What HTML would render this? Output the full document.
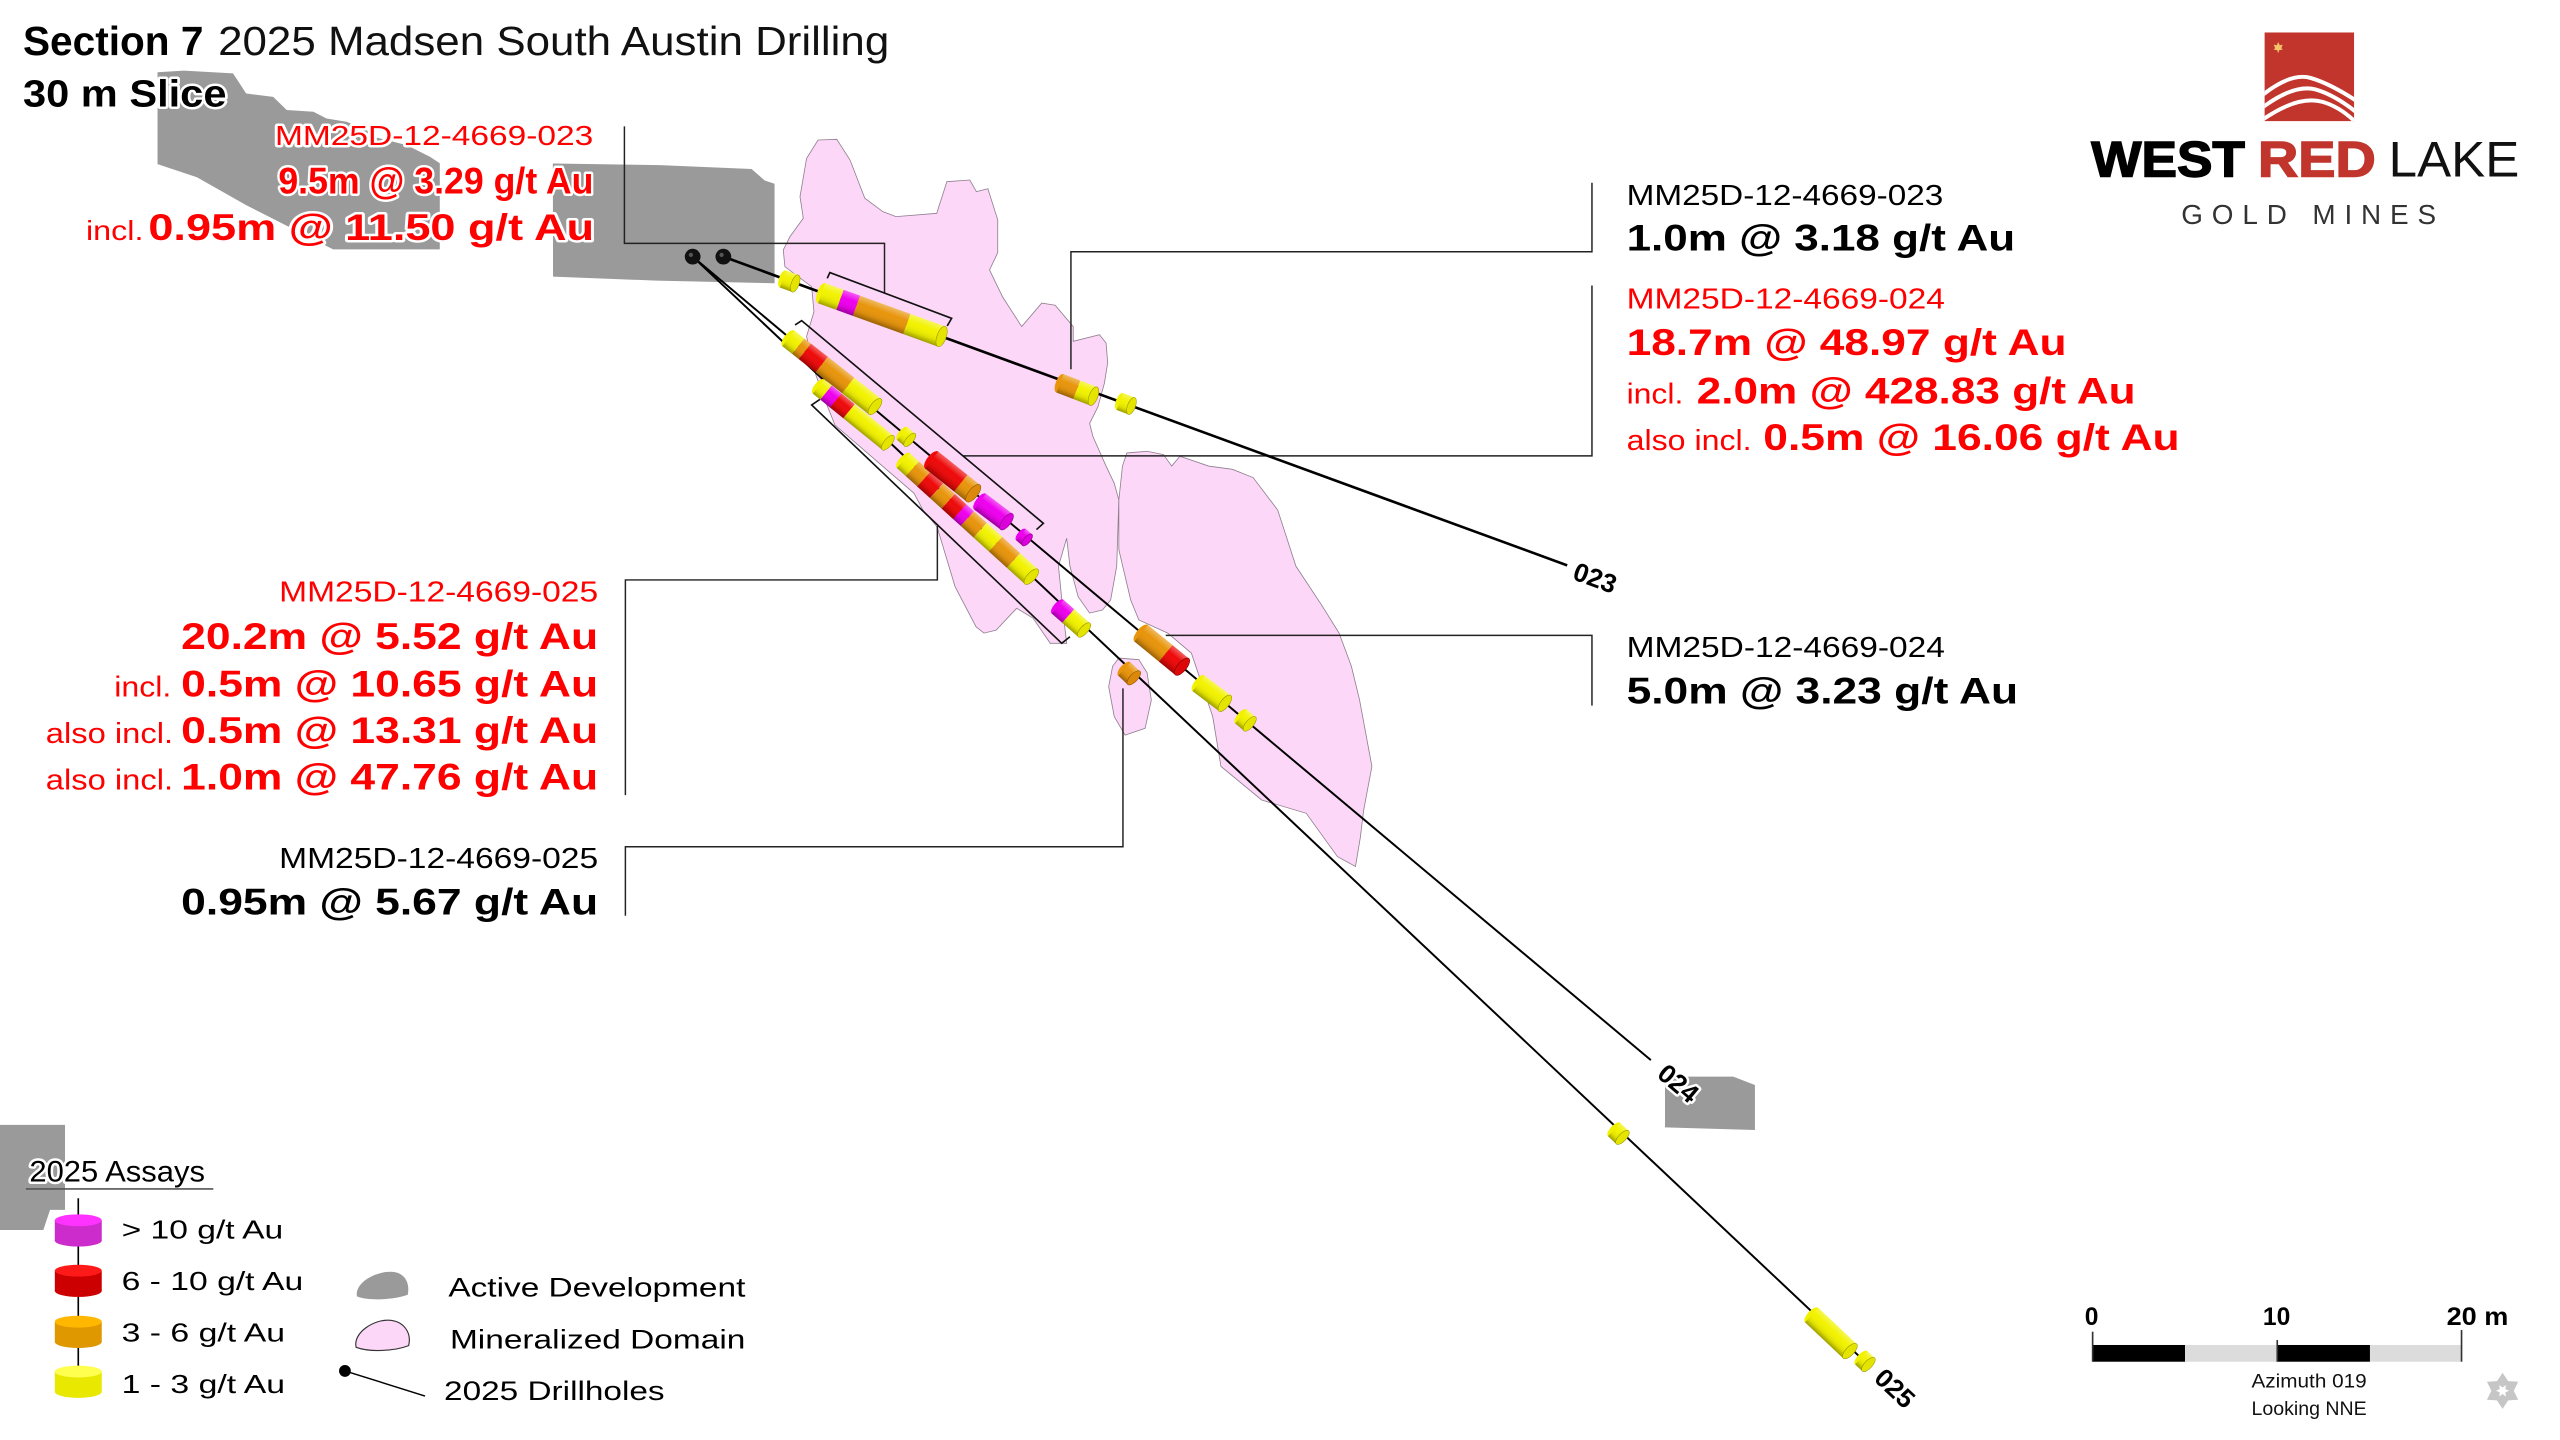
<!DOCTYPE html>
<html>
<head>
<meta charset="utf-8">
<style>
html,body{margin:0;padding:0;background:#fff;}
body{width:2560px;height:1440px;overflow:hidden;}
svg{display:block;}
text{font-family:"Liberation Sans",sans-serif;}
.h{paint-order:stroke;stroke:#fff;stroke-width:3;stroke-linejoin:round;}
.b{font-weight:bold;}
.r{fill:#f00;}
</style>
</head>
<body>
<svg width="2560" height="1440" viewBox="0 0 1560 877.5" xmlns="http://www.w3.org/2000/svg">
<defs>
<linearGradient id="sh" x1="0" y1="0" x2="0" y2="1">
<stop offset="0" stop-color="#fff" stop-opacity="0.35"/>
<stop offset="0.35" stop-color="#fff" stop-opacity="0"/>
<stop offset="0.75" stop-color="#000" stop-opacity="0.08"/>
<stop offset="1" stop-color="#000" stop-opacity="0.35"/>
</linearGradient>
<clipPath id="sq"><rect x="1380" y="19.8" width="54.5" height="54"/></clipPath>
</defs>

<!-- Active development (gray) -->
<g fill="#9a9a9a">
<polygon points="96,44 112,43 142,44.7 146,50.8 150,57 166.5,59 174.7,67 191,68.1 199,72.2 211.2,74.2 223.4,79.3 227.5,83.3 247.8,88.4 262,95.5 268,99.5 268,152 203,152 150,125 120,108 96,100"/>
<polygon points="336.9,99.6 402,100.6 458,103 466,110 472,112 472,172.6 400,171 337,168.6"/>
<polygon points="1014.6,656.1 1056.2,656.1 1069.4,661.2 1069.4,688.6 1014.6,687"/>
<polygon points="0,685.5 39.6,685.5 39.6,737.3 30.5,737.3 26.4,749.5 0,749.5"/>
</g>

<!-- Mineralized domains -->
<g fill="#fcd7f7" stroke="#8f7f8f" stroke-width="0.5">
<path d="M498.5,85.3 L509.9,84.9 L518,97.5 L527,120.8 L538,129 L546,132 L570.8,130 L577,110.7 L591,109.7 L595,116.8 L602,115 L608,134 L608,154 L603,164.5 L611,181 L622.6,199 L634.8,184.7 L643,186 L654,199 L654,208 L670,204 L674,209 L675,221 L673,233.5 L669,248 L664,258 L666,266 L674,284 L679,294.5 L681.8,304.7 L680.5,345 L676.8,365.6 L671.8,371.7 L664,373.6 L657,363.6 L652,345 L650,328 L645,345 L648,375 L650,392 L640,392 L629.5,376.7 L619.5,370.7 L607,384 L599.6,385.8 L594.8,382 L582,357.5 L571,321 L562.4,310.8 L557,300.6 L508.8,259 L502.7,243.8 L497,228 L491.5,205 L496,190 L494.6,174.7 L478.3,162.5 L477.3,152.3 L481.4,144.2 L489.5,133 L487.5,119.8 L491.5,96.5 Z"/>
<path d="M686.7,276 L699,275 L709,277 L714,284 L719,278 L736.5,284 L751,286 L763.6,291 L778.6,310.8 L789.7,345 L806,369.7 L816,385.8 L823.5,406 L828.5,426.6 L836,467 L831,493.6 L829,510 L826,528 L815,522 L796,495.6 L768.8,487.5 L744,467 L739,436.7 L726,398 L711.6,385.8 L694,377.8 L689,365.6 L681.8,335 L681.8,304.7 L684,284 Z"/>
<path d="M681.8,401 L694,402 L699,410 L701.6,426.6 L697.8,443.8 L685.6,448 L679,436.7 L675.6,418.5 L678,406 Z"/>
</g>

<!-- Leader lines -->
<g fill="none" stroke="#222" stroke-width="0.9">
<polyline points="380.5,77 380.5,148.3 539,148.3 539,178.5"/>
<polyline points="970.1,111.4 970.1,153.4 652.6,153.4 652.6,225"/>
<polyline points="970.1,174 970.1,277.8 587,277.8"/>
<polyline points="970.1,430 970.1,387.2 710.4,387.2"/>
<polyline points="381.1,484.5 381.1,353.4 571.2,353.4 571.2,320.5"/>
<polyline points="381.1,558 381.1,516 684.3,516 684.3,419.5"/>
</g>

<!-- Brackets -->
<g fill="none" stroke="#111" stroke-width="1">
<polyline points="504.1,169.6 505.7,166.1 579.9,194 577.2,198.6"/>
<polyline points="484.5,198 488.5,195.4 635.8,318.9 631.6,322.7"/>
<polyline points="499.7,243.3 494.6,246.8 647,392 652,388"/>
</g>

<!-- Drill holes -->
<g stroke="#000" fill="none">
<line x1="440.8" y1="156.4" x2="955" y2="344.5" stroke-width="1.6"/>
<line x1="422.1" y1="156.4" x2="1006" y2="646" stroke-width="1.2"/>
<line x1="422.1" y1="156.4" x2="1135.4" y2="828.8" stroke-width="1.2"/>
</g>

<!-- Cylinders -->
<g stroke="none">
<!-- 1 -->
<g transform="translate(477.1,170) rotate(20.1)"><ellipse cx="0" cy="0" rx="2.4" ry="5.5" fill="#f2f200"/><rect x="0" y="-5.5" width="8" height="11" fill="#f2f200"/><rect x="0" y="-5.5" width="8" height="11" fill="url(#sh)"/><ellipse cx="8" cy="0" rx="2.4" ry="5.5" fill="#e4e400" stroke="#8a8a00" stroke-width="0.3"/></g>
<!-- 2 -->
<g transform="translate(500.7,178.7) rotate(19.85)"><ellipse cx="0" cy="0" rx="2.8" ry="6.5" fill="#f2f200"/><rect x="0" y="-6.5" width="11.9" height="13" fill="#f2f200"/><rect x="11.9" y="-6.5" width="10.7" height="13" fill="#ee00ee"/><rect x="22.5" y="-6.5" width="32.7" height="13" fill="#e8950c"/><rect x="55.2" y="-6.5" width="22.5" height="13" fill="#f2f200"/><rect x="0" y="-6.5" width="77.7" height="13" fill="url(#sh)"/><ellipse cx="77.7" cy="0" rx="2.8" ry="6.5" fill="#e4e400" stroke="#8a8a00" stroke-width="0.3"/></g>
<!-- 3 -->
<g transform="translate(645.9,233.6) rotate(21)"><ellipse cx="0" cy="0" rx="2.6" ry="6" fill="#e8950c"/><rect x="0" y="-6" width="11" height="12" fill="#e8950c"/><rect x="11" y="-6" width="10.9" height="12" fill="#f2f200"/><rect x="0" y="-6" width="21.9" height="12" fill="url(#sh)"/><ellipse cx="21.9" cy="0" rx="2.6" ry="6" fill="#e4e400" stroke="#8a8a00" stroke-width="0.3"/></g>
<!-- 4 -->
<g transform="translate(682.4,244.7) rotate(20.8)"><ellipse cx="0" cy="0" rx="2.4" ry="5.5" fill="#f2f200"/><rect x="0" y="-5.5" width="7.6" height="11" fill="#f2f200"/><rect x="0" y="-5.5" width="7.6" height="11" fill="url(#sh)"/><ellipse cx="7.6" cy="0" rx="2.4" ry="5.5" fill="#e4e400" stroke="#8a8a00" stroke-width="0.3"/></g>
<!-- 5 -->
<g transform="translate(480.4,206.2) rotate(38.2)"><ellipse cx="0" cy="0" rx="2.6" ry="6" fill="#f2f200"/><rect x="0" y="-6" width="7.7" height="12" fill="#f2f200"/><rect x="7.7" y="-6" width="5.1" height="12" fill="#e8950c"/><rect x="12.8" y="-6" width="13.1" height="12" fill="#ee0a0a"/><rect x="25.9" y="-6" width="20.5" height="12" fill="#e8950c"/><rect x="46.4" y="-6" width="20.8" height="12" fill="#f2f200"/><rect x="0" y="-6" width="67.2" height="12" fill="url(#sh)"/><ellipse cx="67.2" cy="0" rx="2.6" ry="6" fill="#e4e400" stroke="#8a8a00" stroke-width="0.3"/></g>
<!-- 13 -->
<g transform="translate(498.7,235.5) rotate(39)"><ellipse cx="0" cy="0" rx="2.4" ry="5.5" fill="#f2f200"/><rect x="0" y="-5.5" width="6" height="11" fill="#f2f200"/><rect x="6" y="-5.5" width="7.7" height="11" fill="#ee00ee"/><rect x="13.6" y="-5.5" width="10.4" height="11" fill="#ee0a0a"/><rect x="24" y="-5.5" width="30.5" height="11" fill="#f2f200"/><rect x="0" y="-5.5" width="54.5" height="11" fill="url(#sh)"/><ellipse cx="54.5" cy="0" rx="2.4" ry="5.5" fill="#e4e400" stroke="#8a8a00" stroke-width="0.3"/></g>
<!-- 6 -->
<g transform="translate(549.8,264.2) rotate(40)"><ellipse cx="0" cy="0" rx="2.2" ry="5" fill="#f2f200"/><rect x="0" y="-5" width="6" height="10" fill="#f2f200"/><rect x="0" y="-5" width="6" height="10" fill="url(#sh)"/><ellipse cx="6" cy="0" rx="2.2" ry="5" fill="#e4e400" stroke="#8a8a00" stroke-width="0.3"/></g>
<!-- 14 -->
<g transform="translate(550.5,280.7) rotate(42.2)"><ellipse cx="0" cy="0" rx="2.6" ry="6" fill="#f2f200"/><rect x="0" y="-6" width="7.4" height="12" fill="#f2f200"/><rect x="7.4" y="-6" width="9.5" height="12" fill="#e8950c"/><rect x="16.8" y="-6" width="10.5" height="12" fill="#ee0a0a"/><rect x="27.4" y="-6" width="9.5" height="12" fill="#e8950c"/><rect x="36.9" y="-6" width="9.5" height="12" fill="#ee0a0a"/><rect x="46.3" y="-6" width="6.3" height="12" fill="#ee00ee"/><rect x="52.6" y="-6" width="10.5" height="12" fill="#e8950c"/><rect x="63.2" y="-6" width="12.6" height="12" fill="#f2f200"/><rect x="75.8" y="-6" width="14.8" height="12" fill="#e8950c"/><rect x="90.6" y="-6" width="14.7" height="12" fill="#f2f200"/><rect x="0" y="-6" width="105.3" height="12" fill="url(#sh)"/><ellipse cx="105.3" cy="0" rx="2.6" ry="6" fill="#e4e400" stroke="#8a8a00" stroke-width="0.3"/></g>
<!-- 7 -->
<g transform="translate(567.7,280.3) rotate(38.6)"><ellipse cx="0" cy="0" rx="2.8" ry="6.5" fill="#ee0a0a"/><rect x="0" y="-6.5" width="22.8" height="13" fill="#ee0a0a"/><rect x="22.7" y="-6.5" width="9.8" height="13" fill="#e8950c"/><rect x="0" y="-6.5" width="32.5" height="13" fill="url(#sh)"/><ellipse cx="32.5" cy="0" rx="2.8" ry="6.5" fill="#dc880a" stroke="#7a4a00" stroke-width="0.3"/></g>
<!-- 8 -->
<g transform="translate(597.2,305.7) rotate(37)"><ellipse cx="0" cy="0" rx="2.6" ry="6" fill="#ee00ee"/><rect x="0" y="-6" width="20.3" height="12" fill="#ee00ee"/><rect x="0" y="-6" width="20.3" height="12" fill="url(#sh)"/><ellipse cx="20.3" cy="0" rx="2.6" ry="6" fill="#dd00dd" stroke="#700070" stroke-width="0.3"/></g>
<!-- 9 -->
<g transform="translate(622.1,325.8) rotate(40)"><ellipse cx="0" cy="0" rx="2" ry="4.5" fill="#ee00ee"/><rect x="0" y="-4.5" width="5" height="9" fill="#ee00ee"/><rect x="0" y="-4.5" width="5" height="9" fill="url(#sh)"/><ellipse cx="5" cy="0" rx="2" ry="4.5" fill="#dd00dd" stroke="#700070" stroke-width="0.3"/></g>
<!-- 15 -->
<g transform="translate(644.5,369.7) rotate(41.4)"><ellipse cx="0" cy="0" rx="2.4" ry="5.5" fill="#ee00ee"/><rect x="0" y="-5.5" width="8.6" height="11" fill="#ee00ee"/><rect x="8.6" y="-5.5" width="12.9" height="11" fill="#f2f200"/><rect x="0" y="-5.5" width="21.5" height="11" fill="url(#sh)"/><ellipse cx="21.5" cy="0" rx="2.4" ry="5.5" fill="#e4e400" stroke="#8a8a00" stroke-width="0.3"/></g>
<!-- 16 -->
<g transform="translate(685.1,407.6) rotate(43.3)"><ellipse cx="0" cy="0" rx="2.4" ry="5.5" fill="#e8950c"/><rect x="0" y="-5.5" width="8" height="11" fill="#e8950c"/><rect x="0" y="-5.5" width="8" height="11" fill="url(#sh)"/><ellipse cx="8" cy="0" rx="2.4" ry="5.5" fill="#dc880a" stroke="#7a4a00" stroke-width="0.3"/></g>
<!-- 10 -->
<g transform="translate(695.4,385.9) rotate(39.3)"><ellipse cx="0" cy="0" rx="2.8" ry="6.5" fill="#e8950c"/><rect x="0" y="-6.5" width="19.4" height="13" fill="#e8950c"/><rect x="19.3" y="-6.5" width="12.9" height="13" fill="#ee0a0a"/><rect x="0" y="-6.5" width="32.2" height="13" fill="url(#sh)"/><ellipse cx="32.2" cy="0" rx="2.8" ry="6.5" fill="#dd0808" stroke="#700000" stroke-width="0.3"/></g>
<!-- 11 -->
<g transform="translate(730.3,416.4) rotate(37)"><ellipse cx="0" cy="0" rx="2.6" ry="6" fill="#f2f200"/><rect x="0" y="-6" width="20.2" height="12" fill="#f2f200"/><rect x="0" y="-6" width="20.2" height="12" fill="url(#sh)"/><ellipse cx="20.2" cy="0" rx="2.6" ry="6" fill="#e4e400" stroke="#8a8a00" stroke-width="0.3"/></g>
<!-- 12 -->
<g transform="translate(756.2,436.6) rotate(40)"><ellipse cx="0" cy="0" rx="2.4" ry="5.5" fill="#f2f200"/><rect x="0" y="-5.5" width="7" height="11" fill="#f2f200"/><rect x="0" y="-5.5" width="7" height="11" fill="url(#sh)"/><ellipse cx="7" cy="0" rx="2.4" ry="5.5" fill="#e4e400" stroke="#8a8a00" stroke-width="0.3"/></g>
<!-- 17 -->
<g transform="translate(983.6,688.3) rotate(43.3)"><ellipse cx="0" cy="0" rx="2.4" ry="5.5" fill="#f2f200"/><rect x="0" y="-5.5" width="7" height="11" fill="#f2f200"/><rect x="0" y="-5.5" width="7" height="11" fill="url(#sh)"/><ellipse cx="7" cy="0" rx="2.4" ry="5.5" fill="#e4e400" stroke="#8a8a00" stroke-width="0.3"/></g>
<!-- 18 -->
<g transform="translate(1104,801.4) rotate(43.3)"><ellipse cx="0" cy="0" rx="2.6" ry="6" fill="#f2f200"/><rect x="0" y="-6" width="32" height="12" fill="#f2f200"/><rect x="0" y="-6" width="32" height="12" fill="url(#sh)"/><ellipse cx="32" cy="0" rx="2.6" ry="6" fill="#e4e400" stroke="#8a8a00" stroke-width="0.3"/></g>
<!-- 19 -->
<g transform="translate(1134.2,827.4) rotate(43.3)"><ellipse cx="0" cy="0" rx="2.4" ry="5.5" fill="#f2f200"/><rect x="0" y="-5.5" width="6" height="11" fill="#f2f200"/><rect x="0" y="-5.5" width="6" height="11" fill="url(#sh)"/><ellipse cx="6" cy="0" rx="2.4" ry="5.5" fill="#e4e400" stroke="#8a8a00" stroke-width="0.3"/></g>
</g>

<!-- Collars -->
<circle cx="422.1" cy="156.4" r="4.8" fill="#111"/>
<circle cx="440.8" cy="156.4" r="4.8" fill="#111"/>
<circle cx="421" cy="155.3" r="1.3" fill="#555"/>
<circle cx="439.7" cy="155.3" r="1.3" fill="#555"/>

<!-- Hole end labels -->
<g class="b h" font-size="16" fill="#000" text-anchor="middle" dominant-baseline="central">
<text transform="translate(972,352.2) rotate(20.1)">023</text>
<text transform="translate(1022.7,660.2) rotate(40)">024</text>
<text transform="translate(1154.7,846) rotate(43.3)">025</text>
</g>

<!-- Title -->
<text class="b h" x="14" y="33.5" font-size="25" textLength="110" lengthAdjust="spacingAndGlyphs">Section 7</text>
<text class="h" x="132.9" y="33.5" font-size="25" fill="#111" textLength="409" lengthAdjust="spacingAndGlyphs">2025 Madsen South Austin Drilling</text>
<text class="b h" x="14" y="65" font-size="23" textLength="124" lengthAdjust="spacingAndGlyphs">30 m Slice</text>

<!-- Upper left red label -->
<text class="r h" x="167.6" y="88.4" font-size="17" textLength="193.9" lengthAdjust="spacingAndGlyphs">MM25D-12-4669-023</text>
<text class="r b h" x="169.6" y="117.8" font-size="22.5" textLength="192" lengthAdjust="spacingAndGlyphs">9.5m @ 3.29 g/t Au</text>
<text class="r h" x="52.4" y="146.3" font-size="17" textLength="35" lengthAdjust="spacingAndGlyphs">incl.</text>
<text class="r b h" x="90.4" y="146.3" font-size="22.5" textLength="271.6" lengthAdjust="spacingAndGlyphs">0.95m @ 11.50 g/t Au</text>

<!-- Right labels -->
<text x="991.2" y="124.9" font-size="17.5" fill="#000" textLength="193" lengthAdjust="spacingAndGlyphs">MM25D-12-4669-023</text>
<text class="b" x="991.2" y="152.7" font-size="22.5" fill="#000" textLength="236.8" lengthAdjust="spacingAndGlyphs">1.0m @ 3.18 g/t Au</text>
<text class="r" x="991.2" y="187.9" font-size="17.5" textLength="194" lengthAdjust="spacingAndGlyphs">MM25D-12-4669-024</text>
<text class="r b" x="991.2" y="216.3" font-size="22.5" textLength="268.1" lengthAdjust="spacingAndGlyphs">18.7m @ 48.97 g/t Au</text>
<text class="r" x="991.2" y="245.8" font-size="17.5" textLength="34.6" lengthAdjust="spacingAndGlyphs">incl.</text>
<text class="r b" x="1033.9" y="245.8" font-size="22.5" textLength="267.5" lengthAdjust="spacingAndGlyphs">2.0m @ 428.83 g/t Au</text>
<text class="r" x="991.2" y="274.2" font-size="17.5" textLength="76.2" lengthAdjust="spacingAndGlyphs">also incl.</text>
<text class="r b" x="1074.5" y="274.2" font-size="22.5" textLength="253.7" lengthAdjust="spacingAndGlyphs">0.5m @ 16.06 g/t Au</text>
<text x="991.2" y="400.5" font-size="17.5" fill="#000" textLength="194" lengthAdjust="spacingAndGlyphs">MM25D-12-4669-024</text>
<text class="b" x="991.2" y="428.8" font-size="22.5" fill="#000" textLength="238.6" lengthAdjust="spacingAndGlyphs">5.0m @ 3.23 g/t Au</text>

<!-- Left labels 025 -->
<text class="r" x="170.1" y="366.6" font-size="17.5" textLength="194.4" lengthAdjust="spacingAndGlyphs">MM25D-12-4669-025</text>
<text class="r b" x="110.4" y="395.5" font-size="22.5" textLength="254.1" lengthAdjust="spacingAndGlyphs">20.2m @ 5.52 g/t Au</text>
<text class="r" x="69.6" y="424.3" font-size="17.5" textLength="34.8" lengthAdjust="spacingAndGlyphs">incl.</text>
<text class="r b" x="110.4" y="424.3" font-size="22.5" textLength="254.1" lengthAdjust="spacingAndGlyphs">0.5m @ 10.65 g/t Au</text>
<text class="r" x="27.9" y="452.7" font-size="17.5" textLength="77.6" lengthAdjust="spacingAndGlyphs">also incl.</text>
<text class="r b" x="110.4" y="452.7" font-size="22.5" textLength="254.1" lengthAdjust="spacingAndGlyphs">0.5m @ 13.31 g/t Au</text>
<text class="r" x="27.9" y="481" font-size="17.5" textLength="77.6" lengthAdjust="spacingAndGlyphs">also incl.</text>
<text class="r b" x="110.4" y="481" font-size="22.5" textLength="254.1" lengthAdjust="spacingAndGlyphs">1.0m @ 47.76 g/t Au</text>
<text x="170.1" y="528.8" font-size="17.5" fill="#000" textLength="194.4" lengthAdjust="spacingAndGlyphs">MM25D-12-4669-025</text>
<text class="b" x="110.4" y="557.2" font-size="22.5" fill="#000" textLength="254.1" lengthAdjust="spacingAndGlyphs">0.95m @ 5.67 g/t Au</text>

<!-- Legend -->
<text class="h" x="17.9" y="720" font-size="18.3" fill="#000" textLength="107" lengthAdjust="spacingAndGlyphs">2025 Assays</text>
<line x1="15.8" y1="724.5" x2="130" y2="724.5" stroke="#555" stroke-width="1"/>
<line x1="47.7" y1="730.2" x2="47.7" y2="834.8" stroke="#000" stroke-width="1"/>
<g>
<rect x="33.4" y="743.6" width="28.6" height="12.4" fill="#cc2ccc"/><ellipse cx="47.7" cy="756" rx="14.3" ry="3.6" fill="#cc2ccc"/><ellipse cx="47.7" cy="743.6" rx="14.3" ry="3.6" fill="#ff33ff"/>
<rect x="33.4" y="774.3" width="28.6" height="12.4" fill="#cc0000"/><ellipse cx="47.7" cy="786.7" rx="14.3" ry="3.6" fill="#cc0000"/><ellipse cx="47.7" cy="774.3" rx="14.3" ry="3.6" fill="#ff1a1a"/>
<rect x="33.4" y="805.4" width="28.6" height="12.4" fill="#e09800"/><ellipse cx="47.7" cy="817.8" rx="14.3" ry="3.6" fill="#e09800"/><ellipse cx="47.7" cy="805.4" rx="14.3" ry="3.6" fill="#ffb700"/>
<rect x="33.4" y="835.8" width="28.6" height="12.4" fill="#e8e800"/><ellipse cx="47.7" cy="848.2" rx="14.3" ry="3.6" fill="#e8e800"/><ellipse cx="47.7" cy="835.8" rx="14.3" ry="3.6" fill="#ffff50"/>
</g>
<g font-size="16" fill="#000">
<text x="74.1" y="754.6" textLength="98.5" lengthAdjust="spacingAndGlyphs">&gt; 10 g/t Au</text>
<text x="74.1" y="786.1" textLength="110.7" lengthAdjust="spacingAndGlyphs">6 - 10 g/t Au</text>
<text x="74.1" y="817.6" textLength="99.6" lengthAdjust="spacingAndGlyphs">3 - 6 g/t Au</text>
<text x="74.1" y="849" textLength="99.6" lengthAdjust="spacingAndGlyphs">1 - 3 g/t Au</text>
</g>
<path d="M217.5,790 C216,782 228,775 238,775 C246,775 250,781 248.5,789 C240,792 225,793 217.5,790 Z" fill="#9a9a9a"/>
<path d="M217,821 C215,812 228,804 237,804.5 C246,805 251,812 249,820 C240,823.5 225,824 217,821 Z" fill="#fcd7f7" stroke="#333" stroke-width="0.7"/>
<circle cx="210.2" cy="835.4" r="3.6" fill="#000"/>
<line x1="210.2" y1="835.4" x2="259" y2="850.7" stroke="#000" stroke-width="0.9"/>
<g font-size="16.5" fill="#000">
<text x="273.2" y="790.1" textLength="181" lengthAdjust="spacingAndGlyphs">Active Development</text>
<text x="274.2" y="821.6" textLength="180" lengthAdjust="spacingAndGlyphs">Mineralized Domain</text>
<text x="270.6" y="853.1" textLength="134.4" lengthAdjust="spacingAndGlyphs">2025 Drillholes</text>
</g>

<!-- Scale bar -->
<rect x="1275.2" y="819.6" width="56.3" height="10.2" fill="#000"/>
<rect x="1331.5" y="819.6" width="56.2" height="10.2" fill="#dcdcdc"/>
<rect x="1387.7" y="819.6" width="56.5" height="10.2" fill="#000"/>
<rect x="1444.2" y="819.6" width="55.8" height="10.2" fill="#dcdcdc"/>
<g stroke="#333" stroke-width="1">
<line x1="1275.2" y1="811.5" x2="1275.2" y2="829.8"/>
<line x1="1387.7" y1="816.6" x2="1387.7" y2="829.8"/>
<line x1="1500" y1="810.5" x2="1500" y2="829.8"/>
</g>
<g class="b" font-size="15" fill="#000">
<text x="1274.6" y="807.4" text-anchor="middle">0</text>
<text x="1387.3" y="807.4" text-anchor="middle">10</text>
<text x="1490.9" y="807.4" textLength="37.6" lengthAdjust="spacingAndGlyphs">20 m</text>
</g>
<text x="1372" y="845.4" font-size="12" fill="#111" textLength="70.2" lengthAdjust="spacingAndGlyphs">Azimuth 019</text>
<text x="1372" y="862.3" font-size="12" fill="#111" textLength="70.2" lengthAdjust="spacingAndGlyphs">Looking NNE</text>
<!-- compass -->
<g fill="#c6c6c6" transform="translate(1525,847.5)">
<polygon points="0,-11 4,-5 0,-2 -4,-5"/>
<polygon points="0,-11 4,-5 0,-2 -4,-5" transform="rotate(60)"/>
<polygon points="0,-11 4,-5 0,-2 -4,-5" transform="rotate(120)"/>
<polygon points="0,-11 4,-5 0,-2 -4,-5" transform="rotate(180)"/>
<polygon points="0,-11 4,-5 0,-2 -4,-5" transform="rotate(240)"/>
<polygon points="0,-11 4,-5 0,-2 -4,-5" transform="rotate(300)"/>
</g>

<!-- Logo -->
<rect x="1380" y="19.8" width="54.5" height="54" fill="#c1352c"/>
<polygon points="1388.3,25.6 1389.2,27.6 1391,27.2 1390.2,29.4 1391.2,30.2 1388.8,30.6 1388.6,32 1388,32 1387.8,30.6 1385.4,30.2 1386.4,29.4 1385.6,27.2 1387.4,27.6" fill="#f3c46a"/>
<g clip-path="url(#sq)" fill="none" stroke="#fff" stroke-width="2.4">
<path d="M1378,58.5 Q1396,44 1408,47.5 Q1420,51 1436,61.5"/>
<path d="M1378,66 Q1398,51 1411,54.5 Q1423,58 1436,68.5"/>
<path d="M1378,73.5 Q1400,58 1415,62 Q1426,65 1436,75"/>
</g>
<text class="b" x="1274.4" y="107.6" font-size="30.5" fill="#000" stroke="#000" stroke-width="0.9" textLength="93.6" lengthAdjust="spacingAndGlyphs">WEST</text>
<text class="b" x="1376" y="107.6" font-size="30.5" fill="#c1352c" stroke="#c1352c" stroke-width="0.9" textLength="71.7" lengthAdjust="spacingAndGlyphs">RED</text>
<text x="1455.6" y="107.6" font-size="30.5" fill="#111" textLength="79.6" lengthAdjust="spacingAndGlyphs">LAKE</text>
<text x="1329.2" y="136.5" font-size="17" fill="#333" textLength="155.3" lengthAdjust="spacing">GOLD MINES</text>
</svg>
</body>
</html>
